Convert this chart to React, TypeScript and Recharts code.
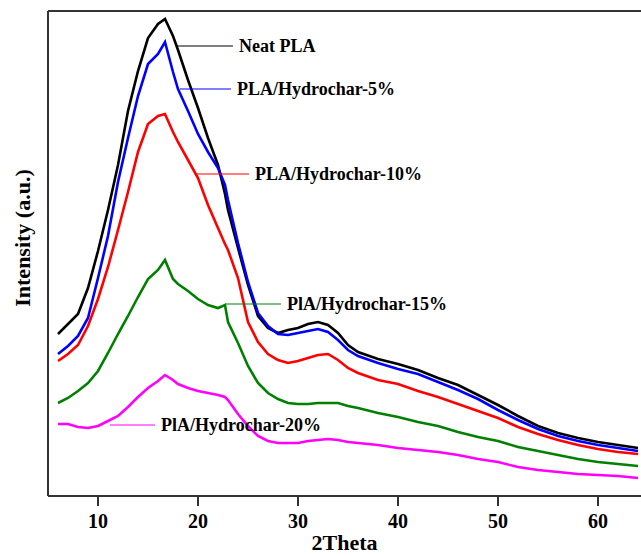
import { LineChart, Line, XAxis, YAxis, ReferenceLine } from "recharts";

// 2θ positions where the traces were read
const twoTheta = [6, 7, 8, 9, 10, 11, 12, 13, 14, 15, 16, 16.7, 17.5, 18, 19, 20, 21, 22, 22.7, 23, 24, 25, 26, 27, 28, 29, 30, 31, 32, 33, 34, 35, 36, 38, 40, 42, 44, 46, 48, 50, 52, 54, 56, 58, 60, 62, 64];

const neatPLA = [162, 172, 182, 208, 245, 286, 331, 385, 425, 458, 472, 477, 460, 446, 416, 388, 358, 331, 302, 286, 248, 211, 180, 168, 163, 166, 168, 172, 174, 171, 163, 151, 144, 137, 132, 126, 118, 111, 101, 91, 80, 70, 63, 58, 54, 51, 48];
const hc5 = [142, 150, 160, 178, 218, 260, 314, 358, 400, 432, 442, 454, 424, 407, 385, 362, 344, 328, 311, 296, 253, 214, 183, 170, 162, 161, 163, 165, 167, 164, 156, 146, 140, 133, 127, 122, 114, 106, 97, 86, 76, 67, 60, 55, 51, 48, 45];
const hc10 = [135, 142, 151, 170, 197, 229, 266, 304, 344, 372, 380, 382, 364, 354, 336, 318, 291, 268, 252, 246, 218, 174, 154, 142, 136, 133, 135, 138, 141, 142, 136, 128, 123, 116, 112, 105, 99, 92, 85, 78, 69, 62, 56, 51, 47, 44, 42];
const hc15 = [93, 98, 105, 113, 125, 143, 162, 180, 199, 217, 226, 236, 217, 212, 205, 197, 191, 188, 191, 174, 153, 130, 113, 103, 97, 93, 92, 92, 93, 93, 93, 90, 88, 83, 79, 74, 70, 64, 59, 55, 49, 45, 41, 37, 34, 32, 30];
const hc20 = [72, 72, 69, 68, 70, 75, 80, 89, 99, 108, 115, 121, 116, 112, 108, 105, 103, 101, 99, 96, 82, 70, 60, 55, 53, 53, 53, 55, 56, 57, 56, 54, 53, 51, 48, 46, 44, 41, 37, 34, 29, 26, 24, 22, 21, 20, 18];

const xTicks = [10, 20, 30, 40, 50, 60];

const series = [
  { key: "neat", name: "Neat PLA", color: "#000000", values: neatPLA, lead: [17.8, 23.5, 450] },
  { key: "hc5", name: "PLA/Hydrochar-5%", color: "#0000ff", values: hc5, lead: [18.2, 23.3, 407] },
  { key: "hc10", name: "PLA/Hydrochar-10%", color: "#ff0000", values: hc10, lead: [19.7, 25.1, 322] },
  { key: "hc15", name: "PlA/Hydrochar-15%", color: "#008000", values: hc15, lead: [22.7, 28.3, 192] },
  { key: "hc20", name: "PlA/Hydrochar-20%", color: "#ff00ff", values: hc20, lead: [11.2, 15.7, 71] },
];

const rows = twoTheta.map((x, i) => {
  const row: Record<string, number> = { x };
  series.forEach((s) => (row[s.key] = s.values[i]));
  return row;
});

const serif = "'Liberation Serif', 'Times New Roman', serif";

function YLabel({ viewBox }: any) {
  const cx = viewBox.x + 22;
  const cy = 238;
  return (
    <text x={cx} y={cy} transform={`rotate(-90 ${cx} ${cy})`} textAnchor="middle" dy="0.35em"
      fontFamily={serif} fontWeight="bold" fontSize={22} fill="#000">
      Intensity (a.u.)
    </text>
  );
}

export default function App() {
  return (
    <div style={{ position: "absolute", left: 0, top: 0, width: 641, height: 556, overflow: "hidden", background: "#fff" }}>
      <LineChart width={641} height={556} data={rows} margin={{ top: 11, right: 0, bottom: 0, left: 0 }}>
        <XAxis
          dataKey="x" type="number" domain={[5, 64.3]} ticks={xTicks} allowDataOverflow
          height={60} tickSize={10} tickMargin={8}
          axisLine={{ stroke: "#333", strokeWidth: 2 }} tickLine={{ stroke: "#333", strokeWidth: 2 }}
          tick={{ fill: "#000", fontSize: 20, fontWeight: "bold", fontFamily: serif }}
          label={{ value: "2Theta", position: "insideBottom", offset: 6, fill: "#000", fontSize: 22, fontWeight: "bold", fontFamily: serif }}
        />
        <YAxis
          type="number" domain={[0, 485]} width={48} tick={false} tickLine={false}
          axisLine={{ stroke: "#333", strokeWidth: 2 }} label={<YLabel />}
        />
        <ReferenceLine y={485} stroke="#333" strokeWidth={2} ifOverflow="visible" />
        <ReferenceLine x={5} stroke="#333" strokeWidth={2} ifOverflow="visible" />
        {series.map((s) => (
          <Line key={s.key} dataKey={s.key} stroke={s.color} strokeWidth={2.6} dot={false}
            type="linear" isAnimationActive={false} />
        ))}
        {series.map((s) => (
          <ReferenceLine
            key={`lead-${s.key}`}
            segment={[{ x: s.lead[0], y: s.lead[2] }, { x: s.lead[1], y: s.lead[2] }]}
            stroke={s.color} strokeWidth={1.2} ifOverflow="visible"
            label={{ value: s.name, position: "right", offset: 6, fill: "#000", fontSize: 18, fontWeight: "bold", fontFamily: serif }}
          />
        ))}
      </LineChart>
    </div>
  );
}
